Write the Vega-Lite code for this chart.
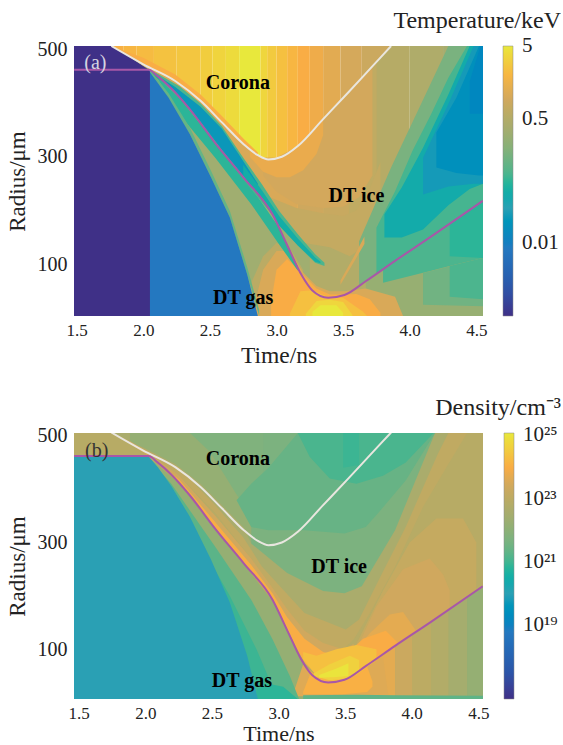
{"$schema":"https://vega.github.io/schema/vega-lite/v6.json","background":"white","padding":{"left":6,"top":9,"right":0,"bottom":2},"spacing":117,"bounds":"flush","config":{"view":{"stroke":null},"font":"Liberation Serif","axis":{"grid":false,"domain":false,"ticks":false,"labelFont":"Liberation Serif","titleFont":"Liberation Serif","titleFontWeight":"normal","labelColor":"#222","titleColor":"#222"}},
"datasets":{"curves":[
{"c":"white","t":1.76,"r":506},{"c":"white","t":2.0,"r":472},{"c":"white","t":2.24,"r":441},{"c":"white","t":2.43,"r":404},{"c":"white","t":2.59,"r":364},{"c":"white","t":2.755,"r":323},{"c":"white","t":2.86,"r":303},{"c":"white","t":2.94,"r":295},{"c":"white","t":3.04,"r":300},{"c":"white","t":3.16,"r":320},{"c":"white","t":3.35,"r":370},{"c":"white","t":3.54,"r":420},{"c":"white","t":3.7,"r":463},{"c":"white","t":3.86,"r":506},
{"c":"purple","t":1.481,"r":462},{"c":"purple","t":2.04,"r":462},{"c":"purple","t":2.107,"r":450},{"c":"purple","t":2.215,"r":426},{"c":"purple","t":2.35,"r":388},{"c":"purple","t":2.539,"r":326},{"c":"purple","t":2.754,"r":261},{"c":"purple","t":2.97,"r":193},{"c":"purple","t":3.078,"r":137},{"c":"purple","t":3.186,"r":81},{"c":"purple","t":3.267,"r":52},{"c":"purple","t":3.388,"r":38},{"c":"purple","t":3.51,"r":43},{"c":"purple","t":3.672,"r":69},{"c":"purple","t":3.887,"r":106},{"c":"purple","t":4.157,"r":151},{"c":"purple","t":4.548,"r":218}]},
"vconcat":[
{"width":409,"height":270,"title":{"text":"Temperature/keV","anchor":"end","frame":"group","font":"Liberation Serif","fontSize":24,"fontWeight":"normal","color":"#222","dx":78,"offset":6},
"layer":[
{"data":{"values":[
{"s":"s01","t":1.48,"lo":4,"hi":506,"v":1.8},{"s":"s01","t":1.85,"lo":4,"hi":506,"v":1.8},
{"s":"s02","t":1.85,"lo":4,"hi":506,"v":2.0},{"s":"s02","t":1.95,"lo":4,"hi":506,"v":2.0},
{"s":"s03","t":1.95,"lo":4,"hi":506,"v":2.2},{"s":"s03","t":2.08,"lo":4,"hi":506,"v":2.2},
{"s":"s04","t":2.08,"lo":4,"hi":506,"v":2.5},{"s":"s04","t":2.25,"lo":4,"hi":506,"v":2.5},
{"s":"s05","t":2.25,"lo":4,"hi":506,"v":2.7},{"s":"s05","t":2.43,"lo":4,"hi":506,"v":2.7},
{"s":"s06","t":2.43,"lo":4,"hi":506,"v":3.1},{"s":"s06","t":2.52,"lo":4,"hi":506,"v":3.1},
{"s":"s07","t":2.52,"lo":4,"hi":506,"v":3.5},{"s":"s07","t":2.62,"lo":4,"hi":506,"v":3.5},
{"s":"s08","t":2.62,"lo":4,"hi":506,"v":4},{"s":"s08","t":2.72,"lo":4,"hi":506,"v":4},
{"s":"s09","t":2.72,"lo":4,"hi":506,"v":5},{"s":"s09","t":2.88,"lo":4,"hi":506,"v":5},
{"s":"s10","t":2.88,"lo":4,"hi":506,"v":3.6},{"s":"s10","t":2.93,"lo":4,"hi":506,"v":3.6},
{"s":"s11","t":2.93,"lo":4,"hi":506,"v":2.9},{"s":"s11","t":3.0,"lo":4,"hi":506,"v":2.9},
{"s":"s12","t":3.0,"lo":4,"hi":506,"v":2.4},{"s":"s12","t":3.08,"lo":4,"hi":506,"v":2.4},
{"s":"s13","t":3.08,"lo":4,"hi":506,"v":2.0},{"s":"s13","t":3.16,"lo":4,"hi":506,"v":2.0},
{"s":"s14","t":3.16,"lo":4,"hi":506,"v":1.7},{"s":"s14","t":3.25,"lo":4,"hi":506,"v":1.7},
{"s":"s15","t":3.25,"lo":4,"hi":506,"v":1.45},{"s":"s15","t":3.35,"lo":4,"hi":506,"v":1.45},
{"s":"s16","t":3.35,"lo":4,"hi":506,"v":1.2},{"s":"s16","t":3.48,"lo":4,"hi":506,"v":1.2},
{"s":"s17","t":3.48,"lo":4,"hi":506,"v":0.98},{"s":"s17","t":3.64,"lo":4,"hi":506,"v":0.98},
{"s":"s18","t":3.64,"lo":4,"hi":506,"v":0.82},{"s":"s18","t":3.89,"lo":4,"hi":506,"v":0.82},
{"s":"edge","t":1.76,"lo":506,"hi":506,"v":1.7},{"s":"edge","t":2.0,"lo":472,"hi":484,"v":1.7},{"s":"edge","t":2.24,"lo":441,"hi":453,"v":1.7},{"s":"edge","t":2.43,"lo":404,"hi":416,"v":1.7},{"s":"edge","t":2.59,"lo":364,"hi":376,"v":1.7},{"s":"edge","t":2.755,"lo":323,"hi":333,"v":1.7},{"s":"edge","t":2.86,"lo":303,"hi":308,"v":1.7},
{"s":"f1","t":1.48,"lo":4,"hi":506,"v":1.05},{"s":"f1","t":1.76,"lo":4,"hi":506,"v":1.05},{"s":"f1","t":2.0,"lo":4,"hi":472,"v":1.05},{"s":"f1","t":2.24,"lo":4,"hi":441,"v":1.05},{"s":"f1","t":2.43,"lo":4,"hi":404,"v":1.05},{"s":"f1","t":2.59,"lo":4,"hi":364,"v":1.05},{"s":"f1","t":2.755,"lo":4,"hi":323,"v":1.05},{"s":"f1","t":2.86,"lo":4,"hi":303,"v":1.05},{"s":"f1","t":2.94,"lo":4,"hi":295,"v":1.05},{"s":"f1","t":3.04,"lo":4,"hi":300,"v":1.05},{"s":"f1","t":3.16,"lo":4,"hi":320,"v":1.05},
{"s":"f2","t":3.16,"lo":4,"hi":320,"v":0.88},{"s":"f2","t":3.35,"lo":4,"hi":370,"v":0.88},
{"s":"f3","t":3.35,"lo":4,"hi":370,"v":0.78},{"s":"f3","t":3.54,"lo":4,"hi":420,"v":0.78},
{"s":"f4","t":3.54,"lo":4,"hi":420,"v":0.66},{"s":"f4","t":3.75,"lo":4,"hi":477,"v":0.66},
{"s":"f5","t":3.75,"lo":4,"hi":477,"v":0.54},{"s":"f5","t":3.86,"lo":4,"hi":506,"v":0.54},{"s":"f5","t":4.0,"lo":4,"hi":506,"v":0.54},
{"s":"f6","t":4.0,"lo":4,"hi":506,"v":0.46},{"s":"f6","t":4.25,"lo":4,"hi":506,"v":0.46},
{"s":"f7","t":4.25,"lo":4,"hi":506,"v":0.38},{"s":"f7","t":4.55,"lo":4,"hi":506,"v":0.38},
{"s":"g1","t":2.9,"lo":265,"hi":298,"v":0.95},{"s":"g1","t":3.0,"lo":235,"hi":298,"v":0.95},{"s":"g1","t":3.15,"lo":212,"hi":318,"v":0.95},{"s":"g1","t":3.35,"lo":205,"hi":369,"v":0.95},{"s":"g1","t":3.5,"lo":207,"hi":408,"v":0.95},{"s":"g1","t":3.62,"lo":225,"hi":441,"v":0.95},{"s":"g1","t":3.72,"lo":265,"hi":468,"v":0.95},
{"s":"g2","t":2.8,"lo":300,"hi":314,"v":1.35},{"s":"g2","t":2.9,"lo":272,"hi":298,"v":1.35},{"s":"g2","t":3.0,"lo":262,"hi":298,"v":1.35},{"s":"g2","t":3.1,"lo":262,"hi":308,"v":1.35},{"s":"g2","t":3.2,"lo":275,"hi":329,"v":1.35},{"s":"g2","t":3.3,"lo":305,"hi":355,"v":1.35},{"s":"g2","t":3.35,"lo":340,"hi":369,"v":1.35},
{"s":"g3","t":2.95,"lo":4,"hi":225,"v":0.72},{"s":"g3","t":3.15,"lo":4,"hi":205,"v":0.72},{"s":"g3","t":3.35,"lo":4,"hi":195,"v":0.72},{"s":"g3","t":3.5,"lo":4,"hi":190,"v":0.72},{"s":"g3","t":3.6,"lo":4,"hi":200,"v":0.72},{"s":"g3","t":3.7,"lo":4,"hi":240,"v":0.72},{"s":"g3","t":3.78,"lo":4,"hi":290,"v":0.72},
{"s":"g4","t":3.0,"lo":4,"hi":150,"v":0.5},{"s":"g4","t":3.2,"lo":4,"hi":140,"v":0.5},{"s":"g4","t":3.4,"lo":4,"hi":132,"v":0.5},{"s":"g4","t":3.55,"lo":4,"hi":115,"v":0.5},{"s":"g4","t":3.7,"lo":4,"hi":140,"v":0.5},
{"s":"p1","t":3.67,"lo":4,"hi":69,"v":0.28},{"s":"p1","t":3.89,"lo":4,"hi":106,"v":0.28},{"s":"p1","t":4.16,"lo":4,"hi":151,"v":0.28},{"s":"p1","t":4.55,"lo":4,"hi":218,"v":0.28},
{"s":"p2","t":3.8,"lo":66,"hi":91,"v":0.09},{"s":"p2","t":3.95,"lo":75,"hi":117,"v":0.09},{"s":"p2","t":4.16,"lo":88,"hi":151,"v":0.09},{"s":"p2","t":4.35,"lo":100,"hi":184,"v":0.09},{"s":"p2","t":4.55,"lo":112,"hi":218,"v":0.09},
{"s":"p2b","t":4.3,"lo":115,"hi":176,"v":0.07},{"s":"p2b","t":4.55,"lo":112,"hi":218,"v":0.07},
{"s":"p3","t":4.1,"lo":25,"hi":84,"v":0.14},{"s":"p3","t":4.55,"lo":22,"hi":112,"v":0.14},
{"s":"p3b","t":4.3,"lo":40,"hi":97,"v":0.09},{"s":"p3b","t":4.55,"lo":35,"hi":112,"v":0.09},
{"s":"r1","t":3.62,"lo":60,"hi":143,"v":0.16},{"s":"r1","t":3.86,"lo":101,"hi":280,"v":0.16},{"s":"r1","t":4.1,"lo":142,"hi":406,"v":0.16},{"s":"r1","t":4.29,"lo":174,"hi":506,"v":0.16},{"s":"r1","t":4.55,"lo":218,"hi":506,"v":0.16},
{"s":"r2","t":3.75,"lo":82,"hi":168,"v":0.085},{"s":"r2","t":3.89,"lo":106,"hi":236,"v":0.085},{"s":"r2","t":4.02,"lo":128,"hi":311,"v":0.085},{"s":"r2","t":4.16,"lo":151,"hi":379,"v":0.085},{"s":"r2","t":4.29,"lo":174,"hi":447,"v":0.085},{"s":"r2","t":4.43,"lo":198,"hi":506,"v":0.085},{"s":"r2","t":4.55,"lo":218,"hi":506,"v":0.085},
{"s":"r3","t":3.81,"lo":150,"hi":193,"v":0.045},{"s":"r3","t":3.94,"lo":150,"hi":243,"v":0.045},{"s":"r3","t":4.1,"lo":165,"hi":317,"v":0.045},{"s":"r3","t":4.29,"lo":210,"hi":416,"v":0.045},{"s":"r3","t":4.45,"lo":240,"hi":506,"v":0.045},{"s":"r3","t":4.55,"lo":250,"hi":506,"v":0.045},
{"s":"r4","t":4.1,"lo":230,"hi":298,"v":0.024},{"s":"r4","t":4.29,"lo":245,"hi":398,"v":0.024},{"s":"r4","t":4.48,"lo":250,"hi":506,"v":0.024},{"s":"r4","t":4.55,"lo":250,"hi":506,"v":0.024},
{"s":"r5","t":4.2,"lo":280,"hi":345,"v":0.017},{"s":"r5","t":4.35,"lo":270,"hi":410,"v":0.017},{"s":"r5","t":4.52,"lo":265,"hi":506,"v":0.017},{"s":"r5","t":4.55,"lo":265,"hi":506,"v":0.017},
{"s":"r6","t":4.45,"lo":380,"hi":440,"v":0.013},{"s":"r6","t":4.53,"lo":380,"hi":506,"v":0.013},{"s":"r6","t":4.55,"lo":380,"hi":506,"v":0.013},
{"s":"streak","t":3.48,"lo":62,"hi":70,"v":1.05},{"s":"streak","t":3.58,"lo":104,"hi":114,"v":1.05},{"s":"streak","t":3.66,"lo":138,"hi":152,"v":1.05},
{"s":"sage","t":2.05,"lo":4,"hi":460,"v":0.33},{"s":"sage","t":2.11,"lo":4,"hi":454,"v":0.33},{"s":"sage","t":2.27,"lo":4,"hi":431,"v":0.33},{"s":"sage","t":2.43,"lo":4,"hi":399,"v":0.33},{"s":"sage","t":2.59,"lo":4,"hi":357,"v":0.33},{"s":"sage","t":2.75,"lo":4,"hi":298,"v":0.33},{"s":"sage","t":2.89,"lo":4,"hi":249,"v":0.33},{"s":"sage","t":3.02,"lo":4,"hi":199,"v":0.33},{"s":"sage","t":3.16,"lo":4,"hi":156,"v":0.33},{"s":"sage","t":3.25,"lo":4,"hi":128,"v":0.33},
{"s":"c00","t":2.8,"lo":4,"hi":60,"v":0.6},{"s":"c00","t":2.9,"lo":4,"hi":115,"v":0.6},{"s":"c00","t":3.0,"lo":4,"hi":140,"v":0.6},{"s":"c00","t":3.1,"lo":4,"hi":130,"v":0.6},{"s":"c00","t":3.2,"lo":4,"hi":90,"v":0.6},
{"s":"c0","t":2.84,"lo":4,"hi":30,"v":1.05},{"s":"c0","t":2.9,"lo":4,"hi":90,"v":1.05},{"s":"c0","t":3.0,"lo":4,"hi":125,"v":1.05},{"s":"c0","t":3.1,"lo":4,"hi":125,"v":1.05},{"s":"c0","t":3.2,"lo":4,"hi":85,"v":1.05},{"s":"c0","t":3.3,"lo":4,"hi":60,"v":1.05},{"s":"c0","t":3.4,"lo":4,"hi":50,"v":1.05},{"s":"c0","t":3.51,"lo":4,"hi":50,"v":1.05},{"s":"c0","t":3.67,"lo":4,"hi":55,"v":1.05},{"s":"c0","t":3.89,"lo":4,"hi":40,"v":1.05},{"s":"c0","t":3.95,"lo":4,"hi":4,"v":1.05},
{"s":"c1","t":2.96,"lo":4,"hi":30,"v":1.66},{"s":"c1","t":3.0,"lo":4,"hi":90,"v":1.66},{"s":"c1","t":3.08,"lo":4,"hi":110,"v":1.66},{"s":"c1","t":3.2,"lo":4,"hi":80,"v":1.66},{"s":"c1","t":3.3,"lo":4,"hi":55,"v":1.66},{"s":"c1","t":3.4,"lo":4,"hi":44,"v":1.66},{"s":"c1","t":3.5,"lo":4,"hi":44,"v":1.66},{"s":"c1","t":3.6,"lo":4,"hi":45,"v":1.66},{"s":"c1","t":3.7,"lo":4,"hi":35,"v":1.66},{"s":"c1","t":3.78,"lo":4,"hi":10,"v":1.66},
{"s":"c2","t":3.1,"lo":4,"hi":8,"v":2.4},{"s":"c2","t":3.18,"lo":4,"hi":50,"v":2.4},{"s":"c2","t":3.27,"lo":4,"hi":52,"v":2.4},{"s":"c2","t":3.4,"lo":4,"hi":38,"v":2.4},{"s":"c2","t":3.5,"lo":4,"hi":38,"v":2.4},{"s":"c2","t":3.65,"lo":4,"hi":12,"v":2.4},{"s":"c2","t":3.68,"lo":4,"hi":4,"v":2.4},
{"s":"c3","t":3.22,"lo":4,"hi":8,"v":3.6},{"s":"c3","t":3.3,"lo":4,"hi":32,"v":3.6},{"s":"c3","t":3.4,"lo":4,"hi":34,"v":3.6},{"s":"c3","t":3.5,"lo":4,"hi":30,"v":3.6},{"s":"c3","t":3.57,"lo":4,"hi":6,"v":3.6},
{"s":"c4","t":3.27,"lo":4,"hi":12,"v":5},{"s":"c4","t":3.33,"lo":4,"hi":24,"v":5},{"s":"c4","t":3.45,"lo":4,"hi":24,"v":5},{"s":"c4","t":3.5,"lo":4,"hi":10,"v":5},
{"s":"sb","t":2.05,"lo":455,"hi":460,"v":0.07},{"s":"sb","t":2.11,"lo":444,"hi":447,"v":0.07},{"s":"sb","t":2.27,"lo":379,"hi":410,"v":0.07},{"s":"sb","t":2.54,"lo":298,"hi":326,"v":0.07},{"s":"sb","t":2.81,"lo":212,"hi":243,"v":0.07},{"s":"sb","t":3.02,"lo":137,"hi":168,"v":0.07},{"s":"sb","t":3.16,"lo":88,"hi":96,"v":0.07},
{"s":"bo","t":1.78,"lo":500,"hi":503,"v":0.09},{"s":"bo","t":2.0,"lo":463,"hi":468,"v":0.09},{"s":"bo","t":2.11,"lo":447,"hi":454,"v":0.09},{"s":"bo","t":2.27,"lo":410,"hi":431,"v":0.09},{"s":"bo","t":2.43,"lo":362,"hi":399,"v":0.09},{"s":"bo","t":2.59,"lo":310,"hi":357,"v":0.09},{"s":"bo","t":2.75,"lo":258,"hi":298,"v":0.09},{"s":"bo","t":2.89,"lo":215,"hi":249,"v":0.09},{"s":"bo","t":3.02,"lo":178,"hi":199,"v":0.09},{"s":"bo","t":3.16,"lo":135,"hi":156,"v":0.09},{"s":"bo","t":3.29,"lo":103,"hi":119,"v":0.09},{"s":"bo","t":3.36,"lo":97,"hi":103,"v":0.09},
{"s":"in1","t":1.8,"lo":499,"hi":500,"v":0.022},{"s":"in1","t":2.05,"lo":458,"hi":460,"v":0.022},{"s":"in1","t":2.24,"lo":421,"hi":430,"v":0.022},{"s":"in1","t":2.43,"lo":365,"hi":393,"v":0.022},{"s":"in1","t":2.59,"lo":313,"hi":352,"v":0.022},{"s":"in1","t":2.75,"lo":265,"hi":292,"v":0.022},{"s":"in1","t":2.86,"lo":231,"hi":250,"v":0.022},
{"s":"in2","t":2.75,"lo":265,"hi":285,"v":0.05},{"s":"in2","t":2.89,"lo":222,"hi":238,"v":0.05},{"s":"in2","t":3.02,"lo":172,"hi":190,"v":0.05},{"s":"in2","t":3.16,"lo":135,"hi":148,"v":0.05},{"s":"in2","t":3.29,"lo":105,"hi":113,"v":0.05},{"s":"in2","t":3.33,"lo":102,"hi":105,"v":0.05},
{"s":"halo","t":2.05,"lo":445,"hi":462,"v":0.12},{"s":"halo","t":2.19,"lo":405,"hi":418,"v":0.12},{"s":"halo","t":2.35,"lo":342,"hi":354,"v":0.12},{"s":"halo","t":2.51,"lo":261,"hi":273,"v":0.12},{"s":"halo","t":2.65,"lo":187,"hi":199,"v":0.12},{"s":"halo","t":2.78,"lo":81,"hi":95,"v":0.12},{"s":"halo","t":2.87,"lo":4,"hi":15,"v":0.12},
{"s":"gas","t":2.04,"lo":4,"hi":462,"v":0.0084},{"s":"gas","t":2.05,"lo":4,"hi":457,"v":0.0084},{"s":"gas","t":2.19,"lo":4,"hi":410,"v":0.0084},{"s":"gas","t":2.35,"lo":4,"hi":342,"v":0.0084},{"s":"gas","t":2.51,"lo":4,"hi":261,"v":0.0084},{"s":"gas","t":2.65,"lo":4,"hi":187,"v":0.0084},{"s":"gas","t":2.78,"lo":4,"hi":81,"v":0.0084},{"s":"gas","t":2.86,"lo":4,"hi":4,"v":0.0084},
{"s":"ind","t":1.48,"lo":4,"hi":506,"v":0.001},{"s":"ind","t":1.76,"lo":4,"hi":506,"v":0.001},{"s":"ind","t":1.9,"lo":4,"hi":485,"v":0.001},{"s":"ind","t":2.04,"lo":4,"hi":462,"v":0.001},{"s":"ind","t":2.05,"lo":4,"hi":458,"v":0.001}
]},"mark":{"type":"area","interpolate":"linear","clip":true},"encoding":{"x":{"field":"t","type":"quantitative","scale":{"domain":[1.48,4.55],"nice":false,"zero":false},"axis":{"values":[1.5,2,2.5,3,3.5,4,4.5],"format":".1f","title":"Time/ns","labelFontSize":17,"titleFontSize":23.5,"labelPadding":6,"titlePadding":5}},"y":{"field":"lo","type":"quantitative","scale":{"domain":[4,506],"nice":false,"zero":false},"axis":{"values":[100,300,500],"title":"Radius/μm","labelFontSize":20,"titleFontSize":23,"labelPadding":7,"titlePadding":8}},"y2":{"field":"hi"},"detail":{"field":"s"},"color":{"field":"v","type":"quantitative","scale":{"type":"log","domain":[0.001,0.00234,0.0084,0.03,0.0708,0.166,0.39,0.91,1.66,2.8,5.01],"range":["#3f3087","#2c55a8","#2478c0","#2aa0b4","#2db597","#7cb27f","#a8ac6e","#d0a85e","#f9ac45","#f2c840","#e8e83c"]},"legend":{"orient":"none","legendX":429,"legendY":0,"direction":"vertical","title":null,"gradientLength":270,"gradientThickness":10,"values":[0.01,0.5,5],"labelExpr":"''+datum.value","labelFont":"Liberation Serif","labelFontSize":21,"labelOffset":9,"labelColor":"#222","gradientStrokeColor":"#888","gradientStrokeWidth":0.5}}}},
{"data":{"name":"curves"},"mark":{"type":"line","interpolate":"monotone","strokeWidth":2,"clip":true},"encoding":{"x":{"field":"t","type":"quantitative"},"y":{"field":"r","type":"quantitative"},"detail":{"field":"c"},"stroke":{"field":"c","type":"nominal","scale":{"domain":["white","purple"],"range":["#e9e6df","#a857a8"]},"legend":null}}},
{"data":{"values":[{"t":2.71,"r":437,"l":"Corona"},{"t":3.6,"r":228,"l":"DT ice"},{"t":2.75,"r":37,"l":"DT gas"}]},"mark":{"type":"text","font":"Liberation Serif","fontWeight":"bold","fontSize":20,"color":"#000"},"encoding":{"x":{"field":"t","type":"quantitative"},"y":{"field":"r","type":"quantitative"},"text":{"field":"l"}}},
{"data":{"values":[{"t":1.64,"r":475,"l":"(a)"}]},"mark":{"type":"text","font":"Liberation Serif","fontSize":20,"color":"#d5d3e0"},"encoding":{"x":{"field":"t","type":"quantitative"},"y":{"field":"r","type":"quantitative"},"text":{"field":"l"}}}
]},
{"width":409,"height":266,"title":{"text":"Density/cm⁻³","anchor":"end","frame":"group","font":"Liberation Serif","fontSize":24,"fontWeight":"normal","color":"#222","dx":78,"offset":6},
"layer":[
{"data":{"values":[
{"s":"b00","t":1.48,"lo":7,"hi":505,"v":8e22},{"s":"b00","t":4.55,"lo":7,"hi":505,"v":8e22},
{"s":"l1","t":3.7,"lo":7,"hi":72,"v":5e23},{"s":"l1","t":3.89,"lo":7,"hi":106,"v":5e23},
{"s":"l2","t":3.89,"lo":7,"hi":106,"v":2e23},{"s":"l2","t":4.02,"lo":7,"hi":128,"v":2e23},
{"s":"l3","t":4.02,"lo":7,"hi":128,"v":1e23},{"s":"l3","t":4.16,"lo":7,"hi":151,"v":1e23},
{"s":"l4","t":4.16,"lo":7,"hi":151,"v":6e22},{"s":"l4","t":4.29,"lo":7,"hi":174,"v":6e22},
{"s":"l5","t":4.29,"lo":7,"hi":174,"v":3e22},{"s":"l5","t":4.43,"lo":7,"hi":198,"v":3e22},
{"s":"l6","t":4.43,"lo":7,"hi":198,"v":1.5e22},{"s":"l6","t":4.55,"lo":7,"hi":218,"v":1.5e22},
{"s":"tr","t":4.3,"lo":400,"hi":505,"v":3e22},{"s":"tr","t":4.55,"lo":350,"hi":505,"v":2e22},
{"s":"bl1","t":3.6,"lo":60,"hi":110,"v":1.5e23},{"s":"bl1","t":3.8,"lo":91,"hi":210,"v":1.5e23},{"s":"bl1","t":4.0,"lo":125,"hi":300,"v":1.5e23},{"s":"bl1","t":4.2,"lo":158,"hi":345,"v":1.5e23},{"s":"bl1","t":4.4,"lo":192,"hi":345,"v":1.5e23},{"s":"bl1","t":4.5,"lo":209,"hi":300,"v":1.5e23},
{"s":"bl2","t":3.6,"lo":60,"hi":100,"v":2.5e23},{"s":"bl2","t":3.75,"lo":82,"hi":180,"v":2.5e23},{"s":"bl2","t":3.95,"lo":117,"hi":250,"v":2.5e23},{"s":"bl2","t":4.15,"lo":150,"hi":270,"v":2.5e23},{"s":"bl2","t":4.25,"lo":167,"hi":240,"v":2.5e23},{"s":"bl2","t":4.3,"lo":176,"hi":210,"v":2.5e23},
{"s":"bl3","t":3.55,"lo":50,"hi":85,"v":5e23},{"s":"bl3","t":3.7,"lo":72,"hi":130,"v":5e23},{"s":"bl3","t":3.85,"lo":97,"hi":165,"v":5e23},{"s":"bl3","t":3.95,"lo":117,"hi":170,"v":5e23},{"s":"bl3","t":4.05,"lo":134,"hi":134,"v":5e23},
{"s":"bl4","t":3.5,"lo":42,"hi":85,"v":9.5e23},{"s":"bl4","t":3.65,"lo":65,"hi":120,"v":9.5e23},{"s":"bl4","t":3.82,"lo":93,"hi":135,"v":9.5e23},{"s":"bl4","t":3.92,"lo":110,"hi":110,"v":9.5e23},
{"s":"A","t":1.78,"lo":505,"hi":505,"v":1.2e23},{"s":"A","t":2.05,"lo":460,"hi":505,"v":1.2e23},{"s":"A","t":2.27,"lo":425,"hi":505,"v":1.2e23},{"s":"A","t":2.54,"lo":355,"hi":505,"v":1.2e23},{"s":"A","t":2.81,"lo":270,"hi":505,"v":1.2e23},{"s":"A","t":2.97,"lo":200,"hi":505,"v":1.2e23},{"s":"A","t":3.21,"lo":131,"hi":505,"v":1.2e23},{"s":"A","t":3.4,"lo":103,"hi":505,"v":1.2e23},{"s":"A","t":3.5,"lo":100,"hi":505,"v":1.2e23},{"s":"A","t":3.58,"lo":119,"hi":505,"v":1.2e23},{"s":"A","t":3.7,"lo":168,"hi":505,"v":1.2e23},{"s":"A","t":3.89,"lo":255,"hi":505,"v":1.2e23},{"s":"A","t":4.1,"lo":367,"hi":505,"v":1.2e23},{"s":"A","t":4.29,"lo":447,"hi":505,"v":1.2e23},{"s":"A","t":4.43,"lo":505,"hi":505,"v":1.2e23},
{"s":"B","t":1.78,"lo":505,"hi":505,"v":4e22},{"s":"B","t":2.05,"lo":470,"hi":505,"v":4e22},{"s":"B","t":2.27,"lo":440,"hi":505,"v":4e22},{"s":"B","t":2.54,"lo":370,"hi":505,"v":4e22},{"s":"B","t":2.75,"lo":310,"hi":505,"v":4e22},{"s":"B","t":2.89,"lo":255,"hi":505,"v":4e22},{"s":"B","t":3.21,"lo":168,"hi":505,"v":4e22},{"s":"B","t":3.52,"lo":137,"hi":505,"v":4e22},{"s":"B","t":3.62,"lo":156,"hi":505,"v":4e22},{"s":"B","t":3.78,"lo":236,"hi":505,"v":4e22},{"s":"B","t":3.97,"lo":329,"hi":505,"v":4e22},{"s":"B","t":4.21,"lo":465,"hi":505,"v":4e22},{"s":"B","t":4.29,"lo":505,"hi":505,"v":4e22},
{"s":"C0","t":1.9,"lo":488,"hi":505,"v":1.5e22},{"s":"C0","t":2.0,"lo":478,"hi":505,"v":1.5e22},{"s":"C0","t":2.24,"lo":447,"hi":505,"v":1.5e22},{"s":"C0","t":2.43,"lo":410,"hi":505,"v":1.5e22},{"s":"C0","t":2.59,"lo":370,"hi":505,"v":1.5e22},{"s":"C0","t":2.755,"lo":328,"hi":505,"v":1.5e22},{"s":"C0","t":2.81,"lo":298,"hi":505,"v":1.5e22},
{"s":"C","t":2.81,"lo":298,"hi":505,"v":5e21},{"s":"C","t":3.08,"lo":243,"hi":505,"v":5e21},{"s":"C","t":3.35,"lo":209,"hi":505,"v":5e21},{"s":"C","t":3.51,"lo":205,"hi":505,"v":5e21},{"s":"C","t":3.64,"lo":218,"hi":505,"v":5e21},{"s":"C","t":3.89,"lo":323,"hi":505,"v":5e21},{"s":"C","t":4.19,"lo":505,"hi":505,"v":5e21},
{"s":"F2","t":2.35,"lo":505,"hi":505,"v":6e21},{"s":"F2","t":2.5,"lo":470,"hi":505,"v":6e21},{"s":"F2","t":2.6,"lo":430,"hi":505,"v":6e21},{"s":"F2","t":2.7,"lo":390,"hi":505,"v":6e21},{"s":"F2","t":2.8,"lo":355,"hi":505,"v":6e21},{"s":"F2","t":2.9,"lo":330,"hi":505,"v":6e21},
{"s":"F3","t":2.7,"lo":379,"hi":379,"v":2.5e21},{"s":"F3","t":2.81,"lo":329,"hi":410,"v":2.5e21},{"s":"F3","t":2.94,"lo":323,"hi":440,"v":2.5e21},{"s":"F3","t":3.16,"lo":323,"hi":505,"v":2.5e21},{"s":"F3","t":3.21,"lo":323,"hi":505,"v":2.5e21},{"s":"F3","t":3.51,"lo":317,"hi":505,"v":2.5e21},{"s":"F3","t":3.67,"lo":329,"hi":505,"v":2.5e21},{"s":"F3","t":3.78,"lo":360,"hi":505,"v":2.5e21},{"s":"F3","t":3.97,"lo":416,"hi":505,"v":2.5e21},{"s":"F3","t":4.19,"lo":505,"hi":505,"v":2.5e21},
{"s":"F4","t":3.16,"lo":505,"hi":505,"v":1.2e21},{"s":"F4","t":3.25,"lo":460,"hi":505,"v":1.2e21},{"s":"F4","t":3.4,"lo":420,"hi":505,"v":1.2e21},{"s":"F4","t":3.6,"lo":410,"hi":505,"v":1.2e21},{"s":"F4","t":3.8,"lo":425,"hi":505,"v":1.2e21},{"s":"F4","t":3.97,"lo":450,"hi":505,"v":1.2e21},{"s":"F4","t":4.18,"lo":505,"hi":505,"v":1.2e21},
{"s":"F5","t":3.5,"lo":440,"hi":505,"v":9e20},{"s":"F5","t":3.62,"lo":445,"hi":505,"v":9e20},
{"s":"R1","t":1.9,"lo":485,"hi":490,"v":2.5e23},{"s":"R1","t":2.05,"lo":460,"hi":465,"v":2.5e23},{"s":"R1","t":2.27,"lo":412,"hi":425,"v":2.5e23},{"s":"R1","t":2.54,"lo":326,"hi":350,"v":2.5e23},{"s":"R1","t":2.81,"lo":243,"hi":270,"v":2.5e23},{"s":"R1","t":2.97,"lo":193,"hi":215,"v":2.5e23},{"s":"R1","t":3.08,"lo":137,"hi":175,"v":2.5e23},{"s":"R1","t":3.21,"lo":75,"hi":135,"v":2.5e23},{"s":"R1","t":3.35,"lo":42,"hi":112,"v":2.5e23},{"s":"R1","t":3.5,"lo":42,"hi":100,"v":2.5e23},{"s":"R1","t":3.58,"lo":50,"hi":110,"v":2.5e23},
{"s":"R2","t":2.05,"lo":460,"hi":460,"v":1e24},{"s":"R2","t":2.27,"lo":414,"hi":418,"v":1e24},{"s":"R2","t":2.54,"lo":328,"hi":338,"v":1e24},{"s":"R2","t":2.81,"lo":245,"hi":258,"v":1e24},{"s":"R2","t":2.97,"lo":193,"hi":205,"v":1e24},{"s":"R2","t":3.08,"lo":137,"hi":160,"v":1e24},{"s":"R2","t":3.21,"lo":75,"hi":120,"v":1e24},{"s":"R2","t":3.35,"lo":42,"hi":95,"v":1e24},{"s":"R2","t":3.5,"lo":42,"hi":85,"v":1e24},
{"s":"L1","t":2.04,"lo":7,"hi":460,"v":1.5e22},{"s":"L1","t":2.27,"lo":7,"hi":410,"v":1.5e22},{"s":"L1","t":2.54,"lo":7,"hi":325,"v":1.5e22},{"s":"L1","t":2.81,"lo":7,"hi":242,"v":1.5e22},{"s":"L1","t":3.0,"lo":7,"hi":180,"v":1.5e22},{"s":"L1","t":3.16,"lo":7,"hi":95,"v":1.5e22},{"s":"L1","t":3.25,"lo":7,"hi":60,"v":1.5e22},{"s":"L1","t":3.3,"lo":7,"hi":7,"v":1.5e22},
{"s":"o1","t":3.13,"lo":12,"hi":20,"v":4e23},{"s":"o1","t":3.2,"lo":12,"hi":72,"v":4e23},{"s":"o1","t":3.3,"lo":12,"hi":50,"v":4e23},{"s":"o1","t":3.4,"lo":12,"hi":40,"v":4e23},{"s":"o1","t":3.6,"lo":12,"hi":55,"v":4e23},{"s":"o1","t":3.8,"lo":12,"hi":85,"v":4e23},{"s":"o1","t":3.84,"lo":12,"hi":12,"v":4e23},
{"s":"o2","t":3.2,"lo":16,"hi":20,"v":1.1e24},{"s":"o2","t":3.26,"lo":16,"hi":58,"v":1.1e24},{"s":"o2","t":3.3,"lo":16,"hi":50,"v":1.1e24},{"s":"o2","t":3.4,"lo":16,"hi":42,"v":1.1e24},{"s":"o2","t":3.5,"lo":16,"hi":43,"v":1.1e24},{"s":"o2","t":3.6,"lo":18,"hi":55,"v":1.1e24},{"s":"o2","t":3.68,"lo":20,"hi":68,"v":1.1e24},{"s":"o2","t":3.72,"lo":30,"hi":40,"v":1.1e24},
{"s":"y1","t":3.2,"lo":82,"hi":95,"v":2.2e24},{"s":"y1","t":3.3,"lo":50,"hi":88,"v":2.2e24},{"s":"y1","t":3.45,"lo":38,"hi":100,"v":2.2e24},{"s":"y1","t":3.6,"lo":52,"hi":108,"v":2.2e24},{"s":"y1","t":3.75,"lo":80,"hi":100,"v":2.2e24},
{"s":"y2","t":3.28,"lo":50,"hi":55,"v":4.5e24},{"s":"y2","t":3.4,"lo":42,"hi":72,"v":4.5e24},{"s":"y2","t":3.55,"lo":47,"hi":88,"v":4.5e24},{"s":"y2","t":3.62,"lo":58,"hi":80,"v":4.5e24},
{"s":"y3","t":3.32,"lo":47,"hi":52,"v":1e25},{"s":"y3","t":3.45,"lo":48,"hi":64,"v":1e25},{"s":"y3","t":3.54,"lo":50,"hi":74,"v":1e25},
{"s":"st","t":3.2,"lo":7,"hi":14,"v":2e21},{"s":"st","t":3.6,"lo":7,"hi":15,"v":2e21},{"s":"st","t":3.9,"lo":7,"hi":14,"v":2e21},{"s":"st","t":4.55,"lo":7,"hi":13,"v":2e21},
{"s":"L2","t":2.05,"lo":7,"hi":455,"v":1.8e21},{"s":"L2","t":2.21,"lo":7,"hi":410,"v":1.8e21},{"s":"L2","t":2.54,"lo":7,"hi":292,"v":1.8e21},{"s":"L2","t":2.81,"lo":7,"hi":193,"v":1.8e21},{"s":"L2","t":2.97,"lo":7,"hi":119,"v":1.8e21},{"s":"L2","t":3.1,"lo":7,"hi":50,"v":1.8e21},{"s":"L2","t":3.17,"lo":7,"hi":7,"v":1.8e21},
{"s":"L3","t":2.05,"lo":7,"hi":450,"v":9e20},{"s":"L3","t":2.19,"lo":7,"hi":395,"v":9e20},{"s":"L3","t":2.4,"lo":7,"hi":310,"v":9e20},{"s":"L3","t":2.65,"lo":7,"hi":200,"v":9e20},{"s":"L3","t":2.85,"lo":7,"hi":100,"v":9e20},{"s":"L3","t":2.97,"lo":7,"hi":30,"v":9e20},
{"s":"L4","t":2.85,"lo":7,"hi":25,"v":7e20},{"s":"L4","t":2.95,"lo":7,"hi":35,"v":7e20},{"s":"L4","t":3.05,"lo":7,"hi":30,"v":7e20},{"s":"L4","t":3.16,"lo":7,"hi":7,"v":7e20},
{"s":"gas","t":1.48,"lo":7,"hi":461,"v":1e20},{"s":"gas","t":2.04,"lo":7,"hi":461,"v":1e20},{"s":"gas","t":2.11,"lo":7,"hi":441,"v":1e20},{"s":"gas","t":2.215,"lo":7,"hi":404,"v":1e20},{"s":"gas","t":2.35,"lo":7,"hi":348,"v":1e20},{"s":"gas","t":2.51,"lo":7,"hi":267,"v":1e20},{"s":"gas","t":2.65,"lo":7,"hi":187,"v":1e20},{"s":"gas","t":2.78,"lo":7,"hi":88,"v":1e20},{"s":"gas","t":2.86,"lo":7,"hi":7,"v":1e20}
]},"mark":{"type":"area","interpolate":"linear","clip":true},"encoding":{"x":{"field":"t","type":"quantitative","scale":{"domain":[1.48,4.55],"nice":false,"zero":false},"axis":{"values":[1.5,2,2.5,3,3.5,4,4.5],"format":".1f","title":"Time/ns","labelFontSize":17,"titleFontSize":22,"labelPadding":6,"titlePadding":2,"labelOffset":2}},"y":{"field":"lo","type":"quantitative","scale":{"domain":[7,505],"nice":false,"zero":false},"axis":{"values":[100,300,500],"title":"Radius/μm","labelFontSize":20,"titleFontSize":23,"labelPadding":7,"titlePadding":8}},"y2":{"field":"hi"},"detail":{"field":"s"},"color":{"field":"v","type":"quantitative","scale":{"type":"log","domain":[4.5e16,3.1e17,5.8e18,1e20,7.2e20,5e21,3.5e22,2.5e23,9.5e23,3e24,1.2e25],"range":["#3f3087","#2c55a8","#2478c0","#2aa0b4","#2db597","#7cb27f","#a8ac6e","#d0a85e","#f9ac45","#f2c840","#e8e83c"]},"legend":{"orient":"none","legendX":430,"legendY":0,"direction":"vertical","title":null,"gradientLength":266,"gradientThickness":10,"values":[1e19,1e21,1e23,1e25],"labelExpr":"datum.value==1e25?'10²⁵':datum.value==1e23?'10²³':datum.value==1e21?'10²¹':'10¹⁹'","labelFont":"Liberation Serif","labelFontSize":21,"labelOffset":9,"labelColor":"#222","gradientStrokeColor":"#888","gradientStrokeWidth":0.5}}}},
{"data":{"name":"curves"},"mark":{"type":"line","interpolate":"monotone","strokeWidth":2,"clip":true},"encoding":{"x":{"field":"t","type":"quantitative"},"y":{"field":"r","type":"quantitative"},"detail":{"field":"c"},"stroke":{"field":"c","type":"nominal","scale":{"domain":["white","purple"],"range":["#e9e6df","#a857a8"]},"legend":null}}},
{"data":{"values":[{"t":2.71,"r":456,"l":"Corona"},{"t":3.47,"r":254,"l":"DT ice"},{"t":2.74,"r":40,"l":"DT gas"}]},"mark":{"type":"text","font":"Liberation Serif","fontWeight":"bold","fontSize":20,"color":"#000"},"encoding":{"x":{"field":"t","type":"quantitative"},"y":{"field":"r","type":"quantitative"},"text":{"field":"l"}}},
{"data":{"values":[{"t":1.65,"r":472,"l":"(b)"}]},"mark":{"type":"text","font":"Liberation Serif","fontSize":20,"color":"#333"},"encoding":{"x":{"field":"t","type":"quantitative"},"y":{"field":"r","type":"quantitative"},"text":{"field":"l"}}}
]}
],"resolve":{"scale":{"color":"independent","stroke":"independent"}}}
